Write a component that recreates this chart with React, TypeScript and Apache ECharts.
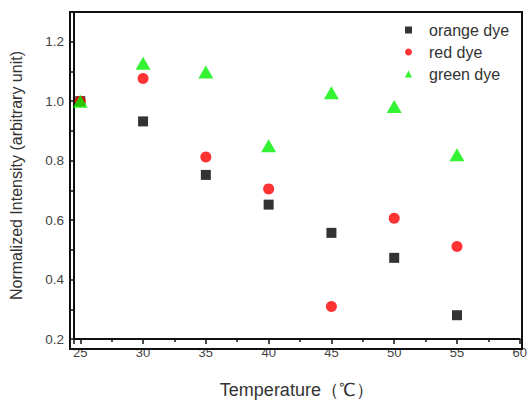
import React, { useEffect, useRef } from "react";
import * as echarts from "echarts";

const temperatures = [25, 30, 35, 40, 45, 50, 55];
const orangeDye = [1.0, 0.932, 0.752, 0.652, 0.557, 0.473, 0.28];
const redDye = [1.0, 1.076, 0.812, 0.705, 0.309, 0.606, 0.511];
const greenDye = [1.0, 1.128, 1.098, 0.85, 1.028, 0.982, 0.82];
const seriesNames = ["orange dye", "red dye", "green dye"];

const FONT = "Liberation Sans, Arial, sans-serif";
const GRID = { left: 70, right: 8, top: 12, bottom: 55 };
const W = 530;
const H = 404;

export default function App() {
  const ref = useRef<HTMLDivElement>(null);
  useEffect(() => {
    document.body.style.margin = "0";
    document.body.style.overflow = "hidden";
    const chart = echarts.init(ref.current!, null, { renderer: "svg" });
    const pts = (vals: number[]) => temperatures.map((t, i) => [t, vals[i]]);
    chart.setOption({
      animation: false,
      backgroundColor: "#fff",
      grid: GRID,
      graphic: [
        {
          type: "rect",
          silent: true,
          z: 10,
          shape: {
            x: GRID.left,
            y: GRID.top,
            width: W - GRID.left - GRID.right,
            height: H - GRID.top - GRID.bottom,
          },
          style: { fill: "none", stroke: "#111", lineWidth: 2 },
        },
      ],
      legend: {
        orient: "vertical",
        left: 400,
        top: 17,
        itemGap: 6,
        itemWidth: 7,
        itemHeight: 7,
        textStyle: { fontFamily: FONT, fontSize: 16, color: "#333", padding: [0, 0, 0, 12] },
        data: [
          { name: seriesNames[0], icon: "rect" },
          { name: seriesNames[1], icon: "circle" },
          { name: seriesNames[2], icon: "triangle" },
        ],
      },
      xAxis: {
        type: "value",
        min: 24.5,
        max: 60,
        minInterval: 5,
        maxInterval: 5,
        name: "Temperature（℃）",
        nameLocation: "middle",
        nameGap: 42,
        nameTextStyle: { fontFamily: FONT, fontSize: 18, color: "#333" },
        axisLine: { show: true, lineStyle: { color: "#111", width: 2 } },
        axisTick: { show: true, inside: false, length: 5, lineStyle: { color: "#111", width: 1.5 } },
        minorTick: { show: true, splitNumber: 2, length: 3, lineStyle: { color: "#111", width: 1.5 } },
        axisLabel: {
          fontFamily: FONT,
          fontSize: 13,
          color: "#444",
          margin: 7,
          showMinLabel: false,
          formatter: (v: number) => (Math.abs(v % 5) < 1e-6 ? String(v) : ""),
        },
        splitLine: { show: false },
        minorSplitLine: { show: false },
      },
      yAxis: {
        type: "value",
        min: 0.2,
        max: 1.3,
        interval: 0.1,
        name: "Normalized Intensity (arbitrary unit)",
        nameLocation: "middle",
        nameGap: 50,
        nameTextStyle: { fontFamily: FONT, fontSize: 16, color: "#333" },
        axisLine: { show: true, lineStyle: { color: "#111", width: 2 } },
        axisTick: { show: true, inside: false, length: 4, lineStyle: { color: "#111", width: 1.5 } },
        axisLabel: {
          fontFamily: FONT,
          fontSize: 13.5,
          color: "#444",
          margin: 10,
          formatter: (v: number) => (Math.round(v * 10) % 2 === 0 ? v.toFixed(1) : ""),
        },
        splitLine: { show: false },
      },
      series: [
        {
          name: seriesNames[0],
          type: "scatter",
          symbol: "rect",
          symbolSize: 10,
          itemStyle: { color: "#000" },
          data: pts(orangeDye),
        },
        {
          name: seriesNames[1],
          type: "scatter",
          symbol: "circle",
          symbolSize: 11,
          itemStyle: { color: "#ff0000" },
          data: pts(redDye),
        },
        {
          name: seriesNames[2],
          type: "scatter",
          symbol: "triangle",
          symbolSize: [15, 13],
          itemStyle: { color: "#00f000" },
          data: pts(greenDye),
        },
      ],
    });
    return () => chart.dispose();
  }, []);
  return <div ref={ref} style={{ width: W, height: H }} />;
}
